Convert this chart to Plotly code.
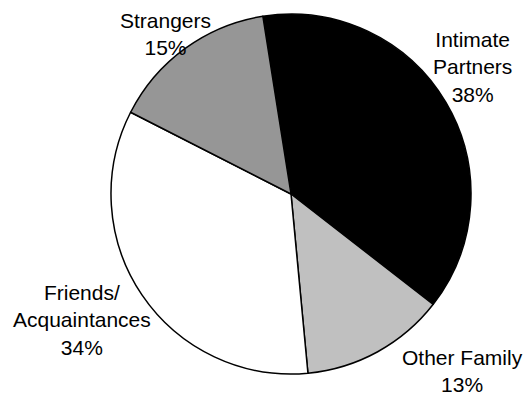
import plotly.graph_objects as go

labels = ["Intimate Partners", "Other Family", "Friends/Acquaintances", "Strangers"]
values = [38, 13, 34, 15]
colors = ["#000000", "#c0c0c0", "#ffffff", "#969696"]
label_texts = ["Intimate<br>Partners<br>38%", "Other Family<br>13%", "Friends/<br>Acquaintances<br>34%", "Strangers<br>15%"]

W, H = 523, 399
cx, cy, r = 291, 194, 180

fig = go.Figure(go.Pie(
    labels=labels, values=values, sort=False, direction="clockwise", rotation=-9,
    marker=dict(colors=colors, line=dict(color="#000000", width=1.5)),
    textinfo="none", hoverinfo="label+percent", showlegend=False,
    domain=dict(x=[(cx - r) / W, (cx + r) / W], y=[(H - cy - r) / H, (H - cy + r) / H]),
))

label_pos = [(472, 67), (462, 371), (82, 320), (165, 34)]
for txt, (px, py) in zip(label_texts, label_pos):
    fig.add_annotation(x=px / W, y=1 - py / H, xref="paper", yref="paper", text=txt,
                       showarrow=False, xanchor="center", yanchor="middle", align="center",
                       font=dict(family="Liberation Sans, Arial", size=21, color="#000000"))

fig.update_layout(width=W, height=H, margin=dict(l=0, r=0, t=0, b=0),
                  paper_bgcolor="white", plot_bgcolor="white")
fig.write_html("out.html")
